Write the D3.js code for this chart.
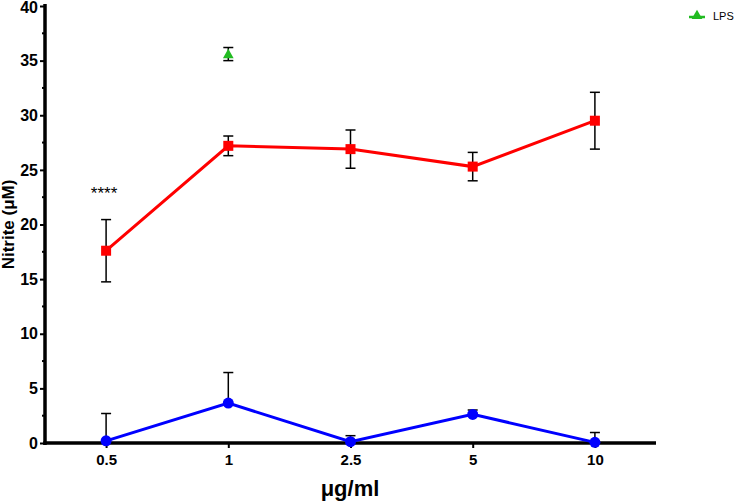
<!DOCTYPE html>
<html><head><meta charset="utf-8">
<script src="https://cdn.jsdelivr.net/npm/d3@7"></script>
<style>body{margin:0;background:#fff}svg{display:block}</style>
</head><body>
<script>
const categories = ["0.5","1","2.5","5","10"];
const redMean = [17.6, 27.2, 26.9, 25.3, 29.5];
const redErr  = [2.85, 0.9, 1.75, 1.3, 2.6];
const blueMean = [0.2, 3.65, 0.12, 2.62, 0.06];
const blueErr  = [2.5, 2.8, 0.55, 0.4, 0.9];
const lpsCat = ["1"];
const lpsMean = [35.6];
const lpsErr = [0.6];
const yTicks = [0,5,10,15,20,25,30,35,40];
const yMinor = [2.5,7.5,12.5,17.5,22.5,27.5,32.5,37.5];

const W=736,H=501;
const m={l:45,r:80,t:6,b:58};
const svg=d3.select("body").append("svg").attr("width",W).attr("height",H);
const x=d3.scalePoint().domain(categories).range([m.l,656]).padding(0.5);
const y=d3.scaleLinear().domain([0,40]).range([443,6]);

svg.append("defs").append("clipPath").attr("id","clip")
  .append("rect").attr("x",m.l).attr("y",0).attr("width",656-m.l).attr("height",443);

// axes
const ya=svg.append("g").attr("transform",`translate(${m.l},0)`)
  .call(d3.axisLeft(y).tickValues(yTicks).tickSize(5).tickPadding(2));
ya.select(".domain").remove();
ya.selectAll("text").attr("font-family","Arial, Liberation Sans, sans-serif").attr("font-weight","bold").attr("font-size","16px").attr("fill","#000");
ya.selectAll(".tick").filter(d=>d===40).select("text").attr("dy","0.4em");
ya.selectAll("line").attr("stroke-width",2);
svg.append("g").attr("transform",`translate(${m.l},0)`).selectAll("line").data(yMinor).join("line")
  .attr("x1",-3).attr("x2",0).attr("y1",d=>y(d)).attr("y2",d=>y(d)).attr("stroke","#000").attr("stroke-width",2);
const xa=svg.append("g").attr("transform",`translate(0,443)`)
  .call(d3.axisBottom(x).tickSize(5).tickPadding(6));
xa.select(".domain").remove();
xa.selectAll("text").attr("font-family","Arial, Liberation Sans, sans-serif").attr("font-weight","bold").attr("font-size","15px").attr("fill","#000");
xa.selectAll("line").attr("stroke-width",2);
svg.append("line").attr("x1",m.l).attr("x2",m.l).attr("y1",4).attr("y2",445).attr("stroke","#000").attr("stroke-width",3.5);
svg.append("line").attr("x1",m.l-1.75).attr("x2",656).attr("y1",443).attr("y2",443).attr("stroke","#000").attr("stroke-width",3.5);

const g=svg.append("g").attr("clip-path","url(#clip)");
// error bars
function errBars(means,errs,cats,both){
  means.forEach((v,i)=>{
    const cx=x(cats[i]);
    const lo= both? v-errs[i] : v;
    const hi=v+errs[i];
    g.append("line").attr("x1",cx).attr("x2",cx).attr("y1",y(lo)).attr("y2",y(hi)).attr("stroke","#000").attr("stroke-width",1.5);
    g.append("line").attr("x1",cx-5).attr("x2",cx+5).attr("y1",y(hi)).attr("y2",y(hi)).attr("stroke","#000").attr("stroke-width",1.5);
    if(both) g.append("line").attr("x1",cx-5).attr("x2",cx+5).attr("y1",y(lo)).attr("y2",y(lo)).attr("stroke","#000").attr("stroke-width",1.5);
  });
}
errBars(redMean,redErr,categories,true);
errBars(blueMean,blueErr,categories,false);
errBars(lpsMean,lpsErr,lpsCat,true);

const line=d3.line().x((d,i)=>x(categories[i])).y(d=>y(d));
svg.append("path").datum(redMean).attr("d",line).attr("fill","none").attr("stroke","#ff0000").attr("stroke-width",3);
svg.append("path").datum(blueMean).attr("d",line).attr("fill","none").attr("stroke","#0000ff").attr("stroke-width",3);
svg.selectAll(".sq").data(redMean).join("rect").attr("x",(d,i)=>x(categories[i])-5).attr("y",d=>y(d)-5)
  .attr("width",10).attr("height",10).attr("fill","#ff0000");
svg.selectAll(".ci").data(blueMean).join("circle").attr("cx",(d,i)=>x(categories[i])).attr("cy",d=>y(d))
  .attr("r",5.5).attr("fill","#0000ff");
const tri=d3.symbol().type(d3.symbolTriangle).size(50);
svg.selectAll(".tr").data(lpsMean).join("path").attr("d",tri)
  .attr("transform",(d,i)=>`translate(${x(lpsCat[i])},${y(d)+1})`).attr("fill","#22bb22");

// annotation
svg.append("text").attr("x",x("0.5")-2).attr("y",199).attr("text-anchor","middle")
  .attr("font-family","Arial, Liberation Sans, sans-serif").attr("font-size","17px").text("****");

// axis titles
svg.append("text").attr("transform",`translate(14,${(6+443)/2}) rotate(-90)`).attr("text-anchor","middle")
  .attr("font-family","Arial, Liberation Sans, sans-serif").attr("font-weight","bold").attr("font-size","17px").text("Nitrite (μM)");
svg.append("text").attr("x",350).attr("y",496).attr("text-anchor","middle")
  .attr("font-family","Arial, Liberation Sans, sans-serif").attr("font-weight","bold").attr("font-size","22px").text("μg/ml");

// legend
svg.append("path").attr("d",tri).attr("transform","translate(697,16)").attr("fill","#22bb22");
svg.append("line").attr("x1",689).attr("x2",705).attr("y1",17).attr("y2",17).attr("stroke","#22bb22").attr("stroke-width",2.5);
svg.append("text").attr("x",713).attr("y",20).attr("font-family","Arial, Liberation Sans, sans-serif").attr("font-size","11px").text("LPS");
</script>
</body></html>
